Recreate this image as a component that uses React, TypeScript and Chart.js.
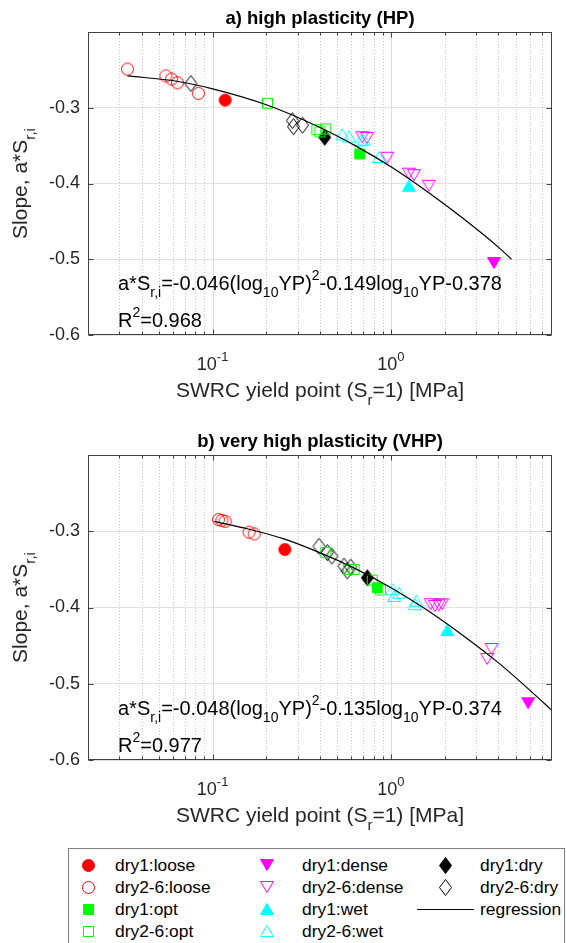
import React, { useEffect, useRef } from 'react';
import { Chart, registerables } from 'chart.js';

Chart.register(...registerables);

const FONT = '"Liberation Sans", Arial, Helvetica, sans-serif';
const W = 567;
const PLOT_L = 88;
const PLOT_R = 552;
const X_MIN = 0.02;
const X_MAX = 8;
const Y_MIN = -0.6;
const Y_MAX = -0.2;

// ---------- a) high plasticity (HP): [yield point MPa, slope] ----------
const hpDry1Loose = [[0.1175, -0.29]];
const hpDry26Loose = [[0.0333, -0.249], [0.0547, -0.258], [0.0588, -0.262], [0.0635, -0.267], [0.0832, -0.281]];
const hpDry1Opt = [[0.668, -0.361]];
const hpDry26Opt = [[0.203, -0.294], [0.384, -0.329], [0.4, -0.332], [0.431, -0.328]];
const hpDry1Dense = [[3.78, -0.505]];
const hpDry26Dense = [[0.691, -0.339], [0.734, -0.34], [0.953, -0.366], [1.26, -0.387], [1.345, -0.389], [1.63, -0.403]];
const hpDry1Wet = [[1.26, -0.403]];
const hpDry26Wet = [[0.533, -0.335], [0.582, -0.338], [0.676, -0.343], [0.706, -0.342], [0.857, -0.365]];
const hpDry1Dry = [[0.425, -0.339]];
const hpDry26Dry = [[0.0755, -0.268], [0.28, -0.317], [0.284, -0.325], [0.319, -0.323]];
const hpFitX = [0.0333, 0.063, 0.1, 0.2, 0.4, 0.63, 1, 1.58, 2.5, 4, 4.74];
const hpFitY = [-0.258, -0.265, -0.275, -0.296, -0.326, -0.35, -0.378, -0.41, -0.445, -0.484, -0.5];

// ---------- b) very high plasticity (VHP) ----------
const vhpDry1Loose = [[0.254, -0.324]];
const vhpDry26Loose = [[0.1078, -0.2847], [0.1126, -0.2859], [0.1175, -0.287], [0.16, -0.3013], [0.171, -0.3035]];
const vhpDry1Opt = [[0.838, -0.374]];
const vhpDry26Opt = [[0.431, -0.328], [0.577, -0.35], [0.621, -0.35], [0.786, -0.364], [0.875, -0.377]];
const vhpDry1Dense = [[5.88, -0.5255]];
const vhpDry26Dense = [[1.668, -0.3957], [1.764, -0.3979], [1.857, -0.397], [1.938, -0.3957], [3.665, -0.4544], [3.463, -0.4675]];
const vhpDry1Wet = [[2.07, -0.4296]];
const vhpDry26Wet = [[1.017, -0.376], [1.109, -0.3805], [1.04, -0.385], [1.386, -0.391], [1.362, -0.3957]];
const vhpDry1Dry = [[0.737, -0.361]];
const vhpDry26Dry = [[0.395, -0.3196], [0.44, -0.328], [0.466, -0.3326], [0.545, -0.3457], [0.595, -0.347], [0.569, -0.352]];
const vhpFitX = [0.102, 0.158, 0.251, 0.398, 0.631, 1, 1.585, 2.512, 3.981, 6.31, 7.9];
const vhpFitY = [-0.287, -0.297, -0.31, -0.328, -0.349, -0.374, -0.403, -0.436, -0.472, -0.513, -0.534];

// axis tick values
const yTickValues = [-0.6, -0.5, -0.4, -0.3, -0.2];
const xDecades = [0.01, 0.1, 1];
const xMajorTicks = [0.1, 1];
const xMajorLabels = ['-1', '0'];

type Seg = [string, number]; // 0 normal, 1 subscript, 2 superscript
type Kind = 'circle' | 'square' | 'diamond' | 'up' | 'down';

const RED = '#ff0000';
const GREEN = '#00ff00';
const MAGENTA = '#ff00ff';
const CYAN = '#00ffff';
const BLACK = '#000000';

const markerDims: Record<Kind, [number, number]> = {
  circle: [15, 15],
  square: [13, 13],
  diamond: [15, 19],
  up: [16, 14],
  down: [16, 14],
};

function tracePath(ctx: any, kind: Kind, cx: number, cy: number) {
  ctx.beginPath();
  switch (kind) {
    case 'circle':
      ctx.arc(cx, cy, 6, 0, Math.PI * 2);
      break;
    case 'square':
      ctx.rect(cx - 5, cy - 5, 10, 10);
      break;
    case 'diamond':
      ctx.moveTo(cx, cy - 8);
      ctx.lineTo(cx + 6, cy);
      ctx.lineTo(cx, cy + 8);
      ctx.lineTo(cx - 6, cy);
      ctx.closePath();
      break;
    case 'up':
      ctx.moveTo(cx, cy - 5.5);
      ctx.lineTo(cx + 6.5, cy + 5.5);
      ctx.lineTo(cx - 6.5, cy + 5.5);
      ctx.closePath();
      break;
    case 'down':
      ctx.moveTo(cx, cy + 5.5);
      ctx.lineTo(cx + 6.5, cy - 5.5);
      ctx.lineTo(cx - 6.5, cy - 5.5);
      ctx.closePath();
      break;
  }
}

function makeMarker(kind: Kind, color: string, filled: boolean): HTMLCanvasElement {
  const [w, h] = markerDims[kind];
  const c = document.createElement('canvas');
  c.width = w;
  c.height = h;
  const ctx = c.getContext('2d')!;
  tracePath(ctx, kind, w / 2, h / 2);
  if (filled) {
    ctx.fillStyle = color;
    ctx.fill();
  }
  ctx.strokeStyle = color;
  ctx.lineWidth = 1;
  ctx.stroke();
  return c;
}

function drawRich(ctx: any, segs: Seg[], x: number, y: number, size: number, align: 'left' | 'center', bold = false) {
  const fontFor = (k: number) => `${bold ? 'bold ' : ''}${k === 0 ? size : Math.round(size * 0.7)}px ${FONT}`;
  let total = 0;
  const widths: number[] = [];
  for (const [t, k] of segs) {
    ctx.font = fontFor(k);
    const w = ctx.measureText(t).width;
    widths.push(w);
    total += w;
  }
  let cx = align === 'center' ? x - total / 2 : x;
  ctx.textAlign = 'left';
  ctx.textBaseline = 'alphabetic';
  segs.forEach(([t, k], i) => {
    ctx.font = fontFor(k);
    const dy = k === 1 ? size * 0.37 : k === 2 ? -size * 0.52 : 0;
    ctx.fillText(t, cx, y + dy);
    cx += widths[i];
  });
}

interface PanelCfg {
  title: string;
  eq: Seg[];
  r2: Seg[];
  top: number;
  bottom: number;
  height: number;
  series: { data: number[][]; kind: Kind; color: string; filled: boolean }[];
  fitX: number[];
  fitY: number[];
}

const panels: PanelCfg[] = [
  {
    title: 'a) high plasticity (HP)',
    eq: [['a*S', 0], ['r,i', 1], ['=-0.046(log', 0], ['10', 1], ['YP)', 0], ['2', 2], ['-0.149log', 0], ['10', 1], ['YP-0.378', 0]],
    r2: [['R', 0], ['2', 2], ['=0.968', 0]],
    top: 32,
    bottom: 335,
    height: 420,
    series: [
      { data: hpDry26Loose, kind: 'circle', color: RED, filled: false },
      { data: hpDry26Opt, kind: 'square', color: GREEN, filled: false },
      { data: hpDry26Dry, kind: 'diamond', color: BLACK, filled: false },
      { data: hpDry26Wet, kind: 'up', color: CYAN, filled: false },
      { data: hpDry26Dense, kind: 'down', color: MAGENTA, filled: false },
      { data: hpDry1Loose, kind: 'circle', color: RED, filled: true },
      { data: hpDry1Opt, kind: 'square', color: GREEN, filled: true },
      { data: hpDry1Dry, kind: 'diamond', color: BLACK, filled: true },
      { data: hpDry1Wet, kind: 'up', color: CYAN, filled: true },
      { data: hpDry1Dense, kind: 'down', color: MAGENTA, filled: true },
    ],
    fitX: hpFitX,
    fitY: hpFitY,
  },
  {
    title: 'b) very high plasticity (VHP)',
    eq: [['a*S', 0], ['r,i', 1], ['=-0.048(log', 0], ['10', 1], ['YP)', 0], ['2', 2], ['-0.135log', 0], ['10', 1], ['YP-0.374', 0]],
    r2: [['R', 0], ['2', 2], ['=0.977', 0]],
    top: 35,
    bottom: 340,
    height: 420,
    series: [
      { data: vhpDry26Loose, kind: 'circle', color: RED, filled: false },
      { data: vhpDry26Opt, kind: 'square', color: GREEN, filled: false },
      { data: vhpDry26Dry, kind: 'diamond', color: BLACK, filled: false },
      { data: vhpDry26Wet, kind: 'up', color: CYAN, filled: false },
      { data: vhpDry26Dense, kind: 'down', color: MAGENTA, filled: false },
      { data: vhpDry1Loose, kind: 'circle', color: RED, filled: true },
      { data: vhpDry1Opt, kind: 'square', color: GREEN, filled: true },
      { data: vhpDry1Dry, kind: 'diamond', color: BLACK, filled: true },
      { data: vhpDry1Wet, kind: 'up', color: CYAN, filled: true },
      { data: vhpDry1Dense, kind: 'down', color: MAGENTA, filled: true },
    ],
    fitX: vhpFitX,
    fitY: vhpFitY,
  },
];

function gridValues(): { v: number; major: boolean }[] {
  const out: { v: number; major: boolean }[] = [];
  for (const d of xDecades) {
    for (let m = 1; m <= 9; m++) {
      const v = +(m * d).toPrecision(6);
      if (v > X_MIN && v < X_MAX) out.push({ v, major: m === 1 });
    }
  }
  return out;
}

function makeDecor(cfg: PanelCfg) {
  return {
    id: 'decor',
    beforeDatasetsDraw(chart: any) {
      const { ctx, chartArea: a } = chart;
      const xs = chart.scales.x;
      ctx.save();
      ctx.lineWidth = 1;
      for (const g of gridValues()) {
        const px = Math.round(xs.getPixelForValue(g.v)) + 0.5;
        ctx.beginPath();
        if (g.major) {
          ctx.setLineDash([]);
          ctx.strokeStyle = '#dcdcdc';
        } else {
          ctx.setLineDash([1, 2]);
          ctx.strokeStyle = '#c8c8c8';
        }
        ctx.moveTo(px, a.top);
        ctx.lineTo(px, a.bottom);
        ctx.stroke();
      }
      ctx.restore();
    },
    afterDraw(chart: any) {
      const { ctx, chartArea: a } = chart;
      const xs = chart.scales.x;
      const ys = chart.scales.y;
      ctx.save();
      ctx.setLineDash([]);
      ctx.strokeStyle = '#404040';
      ctx.lineWidth = 1;
      const L = Math.round(a.left) + 0.5;
      const R = Math.round(a.right) - 0.5;
      const T = Math.round(a.top) + 0.5;
      const B = Math.round(a.bottom) - 0.5;
      // tick marks
      ctx.beginPath();
      for (const g of gridValues()) {
        const px = Math.round(xs.getPixelForValue(g.v)) + 0.5;
        const len = g.major ? 5 : 3;
        ctx.moveTo(px, B);
        ctx.lineTo(px, B - len);
        ctx.moveTo(px, T);
        ctx.lineTo(px, T + len);
      }
      for (const v of yTickValues) {
        const py = Math.round(ys.getPixelForValue(v)) + 0.5;
        ctx.moveTo(L, py);
        ctx.lineTo(L + 5, py);
        ctx.moveTo(R, py);
        ctx.lineTo(R - 5, py);
      }
      ctx.stroke();
      // box
      ctx.strokeRect(L, T, R - L, B - T);

      ctx.fillStyle = '#262626';
      // x tick labels
      xMajorTicks.forEach((v, i) => {
        drawRich(ctx, [['10', 0], [xMajorLabels[i], 2]], xs.getPixelForValue(v), a.bottom + 35, 18, 'center');
      });
      // x label
      const cxm = (a.left + a.right) / 2;
      drawRich(ctx, [['SWRC yield point (S', 0], ['r', 1], ['=1) [MPa]', 0]], cxm, a.bottom + 62, 21, 'center');
      // y label
      ctx.save();
      ctx.translate(27, (a.top + a.bottom) / 2);
      ctx.rotate(-Math.PI / 2);
      drawRich(ctx, [['Slope, a*S', 0], ['r,i', 1]], 0, 0, 21, 'center');
      ctx.restore();
      // title
      ctx.fillStyle = '#000000';
      drawRich(ctx, [[cfg.title, 0]], cxm, a.top - 8, 18.5, 'center', true);
      // annotations
      drawRich(ctx, cfg.eq, a.left + 30, a.bottom - 45, 20, 'left');
      drawRich(ctx, cfg.r2, a.left + 30, a.bottom - 8, 20, 'left');
      ctx.restore();
    },
  };
}

function buildChart(canvas: HTMLCanvasElement, cfg: PanelCfg) {
  const datasets: any[] = [
    {
      label: 'regression',
      data: cfg.fitX.map((x, i) => ({ x, y: cfg.fitY[i] })),
      showLine: true,
      borderColor: '#000000',
      borderWidth: 1.2,
      pointRadius: 0,
      cubicInterpolationMode: 'monotone',
      fill: false,
    },
    ...cfg.series.map((s) => ({
      data: s.data.map(([x, y]) => ({ x, y })),
      pointStyle: makeMarker(s.kind, s.color, s.filled),
      pointRadius: 6,
      showLine: false,
    })),
  ];
  return new Chart(canvas, {
    type: 'scatter',
    data: { datasets },
    options: {
      animation: false,
      responsive: false,
      devicePixelRatio: 1,
      events: [],
      layout: { padding: { top: cfg.top, right: W - PLOT_R, left: 0, bottom: 0 } },
      plugins: {
        legend: { display: false },
        tooltip: { enabled: false },
        title: { display: false },
      },
      scales: {
        x: {
          type: 'logarithmic',
          min: X_MIN,
          max: X_MAX,
          ticks: { display: false },
          grid: { display: false },
          border: { display: false },
          afterFit: (s: any) => {
            s.height = cfg.height - cfg.bottom;
          },
        },
        y: {
          type: 'linear',
          min: Y_MIN,
          max: Y_MAX,
          afterBuildTicks: (s: any) => {
            s.ticks = yTickValues.map((v) => ({ value: v }));
          },
          ticks: {
            font: { family: FONT, size: 18 },
            color: '#262626',
            padding: 8,
            callback: (v: any) => (Number(v) > -0.25 ? '' : Number(v).toFixed(1)),
          },
          grid: { color: '#e2e2e2', drawTicks: false, lineWidth: 1 },
          border: { display: false },
          afterFit: (s: any) => {
            s.width = PLOT_L;
          },
        },
      },
    },
    plugins: [makeDecor(cfg)],
  } as any);
}

const legendItems: { label: string; kind: Kind | 'line'; color: string; filled: boolean; col: number; row: number }[] = [
  { label: 'dry1:loose', kind: 'circle', color: RED, filled: true, col: 0, row: 0 },
  { label: 'dry2-6:loose', kind: 'circle', color: RED, filled: false, col: 0, row: 1 },
  { label: 'dry1:opt', kind: 'square', color: GREEN, filled: true, col: 0, row: 2 },
  { label: 'dry2-6:opt', kind: 'square', color: GREEN, filled: false, col: 0, row: 3 },
  { label: 'dry1:dense', kind: 'down', color: MAGENTA, filled: true, col: 1, row: 0 },
  { label: 'dry2-6:dense', kind: 'down', color: MAGENTA, filled: false, col: 1, row: 1 },
  { label: 'dry1:wet', kind: 'up', color: CYAN, filled: true, col: 1, row: 2 },
  { label: 'dry2-6:wet', kind: 'up', color: CYAN, filled: false, col: 1, row: 3 },
  { label: 'dry1:dry', kind: 'diamond', color: BLACK, filled: true, col: 2, row: 0 },
  { label: 'dry2-6:dry', kind: 'diamond', color: BLACK, filled: false, col: 2, row: 1 },
  { label: 'regression', kind: 'line', color: BLACK, filled: false, col: 2, row: 2 },
];
const LEG_BOX = { left: 68, top: 848, width: 497 };
const LEG_MARK_X = [88, 267, 445];
const LEG_TEXT_X = [115, 302, 480];
const LEG_ROW_Y = [865, 887, 909, 931];

function LegendMarker({ kind, color, filled, x, y }: any) {
  if (kind === 'line') {
    return (
      <div
        style={{ position: 'absolute', left: 417, top: y - 0.5, width: 57, height: 1, background: '#000' }}
      />
    );
  }
  const [w, h] = markerDims[kind as Kind];
  const cx = w / 2;
  const cy = h / 2;
  const fill = filled ? color : 'none';
  let shape: any = null;
  if (kind === 'circle') shape = <circle cx={cx} cy={cy} r={6} fill={fill} stroke={color} strokeWidth={1} />;
  else if (kind === 'square') shape = <rect x={cx - 5} y={cy - 5} width={10} height={10} fill={fill} stroke={color} strokeWidth={1} />;
  else if (kind === 'diamond')
    shape = <polygon points={`${cx},${cy - 8} ${cx + 6},${cy} ${cx},${cy + 8} ${cx - 6},${cy}`} fill={fill} stroke={color} strokeWidth={1} />;
  else if (kind === 'up')
    shape = <polygon points={`${cx},${cy - 5.5} ${cx + 6.5},${cy + 5.5} ${cx - 6.5},${cy + 5.5}`} fill={fill} stroke={color} strokeWidth={1} />;
  else
    shape = <polygon points={`${cx},${cy + 5.5} ${cx + 6.5},${cy - 5.5} ${cx - 6.5},${cy - 5.5}`} fill={fill} stroke={color} strokeWidth={1} />;
  return (
    <svg width={w} height={h} style={{ position: 'absolute', left: x - w / 2, top: y - h / 2 }}>
      {shape}
    </svg>
  );
}

export default function App() {
  const ref1 = useRef<HTMLCanvasElement>(null);
  const ref2 = useRef<HTMLCanvasElement>(null);

  useEffect(() => {
    const c1 = buildChart(ref1.current!, panels[0]);
    const c2 = buildChart(ref2.current!, panels[1]);
    return () => {
      c1.destroy();
      c2.destroy();
    };
  }, []);

  return (
    <div
      style={{
        position: 'absolute',
        left: 0,
        top: 0,
        width: W,
        height: 943,
        background: '#ffffff',
        overflow: 'hidden',
        fontFamily: FONT,
      }}
    >
      <canvas ref={ref1} width={W} height={420} style={{ position: 'absolute', left: 0, top: 0, width: W, height: 420 }} />
      <canvas ref={ref2} width={W} height={420} style={{ position: 'absolute', left: 0, top: 420, width: W, height: 420 }} />
      <div
        style={{
          position: 'absolute',
          left: LEG_BOX.left,
          top: LEG_BOX.top,
          width: LEG_BOX.width,
          height: 140,
          border: '1px solid #808080',
          boxSizing: 'border-box',
          background: '#fff',
        }}
      />
      {legendItems.map((it) => (
        <React.Fragment key={it.label}>
          <LegendMarker kind={it.kind} color={it.color} filled={it.filled} x={LEG_MARK_X[it.col]} y={LEG_ROW_Y[it.row]} />
          <div
            style={{
              position: 'absolute',
              left: LEG_TEXT_X[it.col],
              top: LEG_ROW_Y[it.row] - 10,
              height: 20,
              lineHeight: '20px',
              fontSize: 17.4,
              color: '#000',
              whiteSpace: 'nowrap',
            }}
          >
            {it.label}
          </div>
        </React.Fragment>
      ))}
    </div>
  );
}
